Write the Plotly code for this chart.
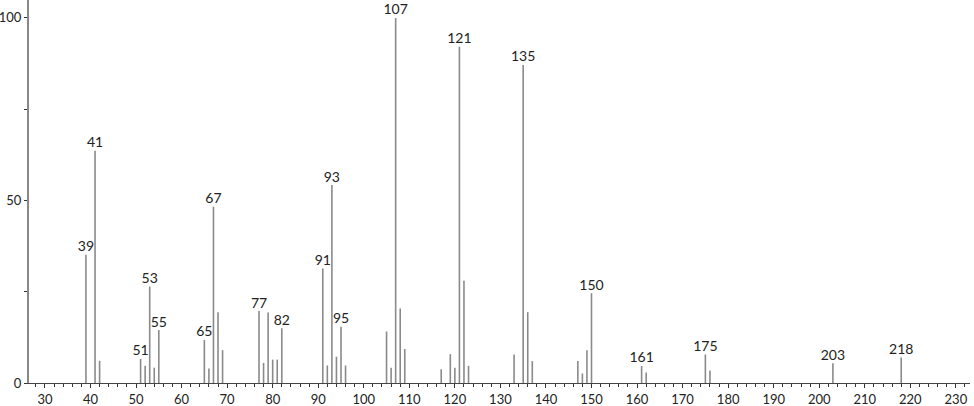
import plotly.graph_objects as go

mz = [39, 41, 42, 51, 52, 53, 54, 55, 65, 66, 67, 68, 69,
      77, 78, 79, 80, 81, 82, 91, 92, 93, 94, 95, 96,
      105, 106, 107, 108, 109, 117, 119, 120, 121, 122, 123,
      133, 135, 136, 137, 147, 148, 149, 150, 161, 162, 175, 176, 203, 218]
intensity = [35.1, 63.6, 6.1, 6.6, 4.7, 26.4, 4.2, 14.5, 11.8, 4.0, 48.3, 19.4, 9.0,
             19.7, 5.5, 19.3, 6.4, 6.4, 15.0, 31.4, 4.8, 54.2, 7.2, 15.4, 4.8,
             14.1, 4.2, 100.0, 20.4, 9.3, 3.8, 7.9, 4.2, 92.1, 28.0, 4.7,
             7.8, 87.1, 19.4, 6.0, 6.0, 2.6, 9.0, 24.6, 4.7, 2.9, 7.8, 3.4, 5.4, 7.0]
labeled = [39, 41, 51, 53, 55, 65, 67, 77, 82, 91, 93, 95, 107, 121, 135, 150, 161, 175, 203, 218]

xticks = list(range(30, 231, 10))
yticks = [0, 50, 100]

FONT = "Lato"

sx, sy = [], []
for m, v in zip(mz, intensity):
    sx += [m, m, None]
    sy += [0, v, None]

lab_x = [m for m in labeled]
lab_y = [intensity[mz.index(m)] for m in labeled]
lab_t = [str(m) for m in labeled]

fig = go.Figure()
fig.add_trace(go.Scatter(x=sx, y=sy, mode="lines",
                         line=dict(color="#8a8a8a", width=1.6),
                         hoverinfo="skip", showlegend=False))
fig.add_trace(go.Scatter(x=lab_x, y=lab_y, mode="text", text=lab_t,
                         textposition="top center",
                         textfont=dict(family=FONT, size=14, color="#222"),
                         cliponaxis=False, hoverinfo="skip", showlegend=False))

fig.update_layout(
    width=974, height=406,
    margin=dict(l=29, r=4, t=0, b=23, autoexpand=False),
    paper_bgcolor="white", plot_bgcolor="white",
    font=dict(family=FONT, size=14, color="#222"),
)
fig.update_xaxes(range=[26.5, 233.1], tickvals=xticks, ticktext=[str(t) for t in xticks],
                 ticks="outside", ticklen=4, tickcolor="#333", showgrid=False, zeroline=False,
                 showline=True, linecolor="#444", linewidth=1, automargin=False,
                 ticklabelstandoff=0,
                 minor=dict(dtick=2, tick0=0, ticks="outside", ticklen=3, tickcolor="#333"),
                 tickfont=dict(family=FONT, size=13, color="#222"))
fig.update_yaxes(range=[0, 104.9], tickvals=yticks, ticktext=[str(t) for t in yticks],
                 ticks="outside", ticklen=3, tickcolor="#333", showgrid=False, zeroline=False,
                 showline=True, linecolor="#888", linewidth=2, automargin=False,
                 ticklabelstandoff=0,
                 minor=dict(dtick=25, tick0=0, ticks="outside", ticklen=3, tickcolor="#333"),
                 tickfont=dict(family=FONT, size=13, color="#222"))

fig.write_html("out.html", config={"displayModeBar": False},
               post_script="document.body.style.margin='0';document.body.style.overflow='hidden';")
